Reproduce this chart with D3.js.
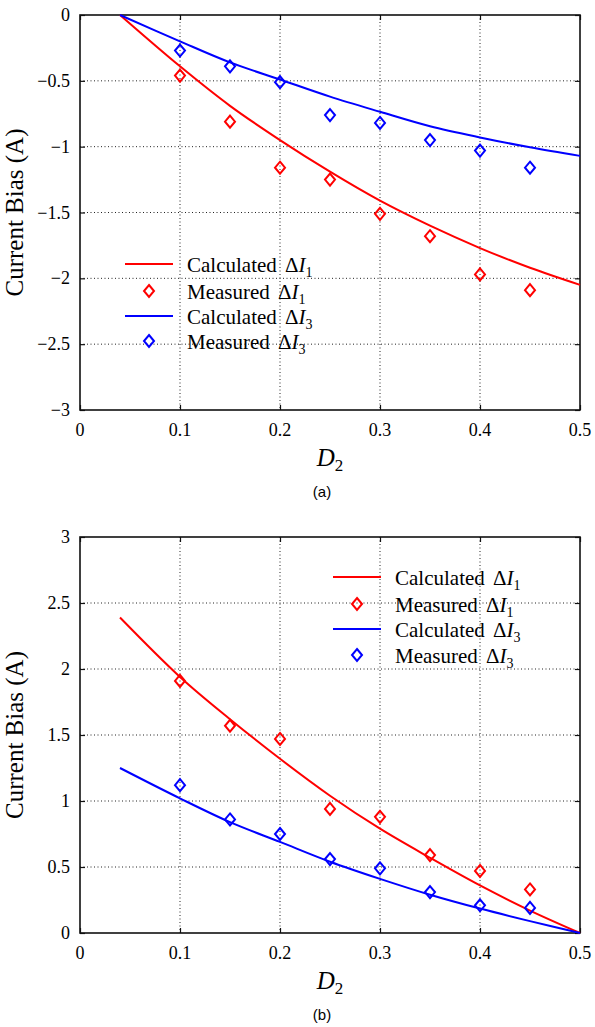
<!DOCTYPE html>
<html>
<head>
<meta charset="utf-8">
<script src="https://cdn.jsdelivr.net/npm/d3@7"></script>
<style>
  body { margin: 0; background: #fff; }
  svg { display: block; }
  text { font-family: "Liberation Serif", "DejaVu Serif", "Times New Roman", serif; fill: #000; }
  text.caption { font-family: "Liberation Sans", Arial, sans-serif; }
</style>
</head>
<body>
<div id="chart"></div>
<script>
// Data
var calcX = [0.04, 0.1, 0.15, 0.2, 0.25, 0.3, 0.35, 0.4, 0.45, 0.5];
var measX = [0.1, 0.15, 0.2, 0.25, 0.3, 0.35, 0.4, 0.45];

// panel (a)
var calcI1a = [0, -0.39, -0.69, -0.95, -1.19, -1.41, -1.60, -1.77, -1.92, -2.05];
var calcI3a = [0, -0.20, -0.36, -0.49, -0.62, -0.735, -0.845, -0.93, -1.005, -1.07];
var measI1a = [-0.46, -0.81, -1.16, -1.25, -1.51, -1.68, -1.97, -2.09];
var measI3a = [-0.27, -0.39, -0.51, -0.76, -0.82, -0.95, -1.03, -1.16];

// panel (b)
var calcI1b = [2.39, 1.94, 1.62, 1.32, 1.04, 0.79, 0.57, 0.36, 0.17, 0];
var calcI3b = [1.25, 1.02, 0.84, 0.69, 0.54, 0.41, 0.29, 0.185, 0.09, 0];
var measI1b = [1.91, 1.57, 1.47, 0.94, 0.88, 0.59, 0.47, 0.33];
var measI3b = [1.12, 0.86, 0.75, 0.56, 0.49, 0.31, 0.21, 0.19];

var xTicks = [0, 0.1, 0.2, 0.3, 0.4, 0.5];
var yTicksA = [0, -0.5, -1, -1.5, -2, -2.5, -3];
var yTicksB = [0, 0.5, 1, 1.5, 2, 2.5, 3];

var legendNames = ["Calculated ", "Measured ", "Calculated ", "Measured "];
var legendSubs = ["1", "1", "3", "3"];

var svgWidth = 595;
var svgHeight = 1027;

var svg = d3.select("#chart")
  .append("svg")
  .attr("width", svgWidth)
  .attr("height", svgHeight);

function fmt(v) {
  return String(v).replace("-", "\u2212");
}

function drawPanel(p) {
  var left = 80, right = 580;
  var x = d3.scaleLinear().domain([0, 0.5]).range([left, right]);
  var y = d3.scaleLinear().domain(p.yDomain).range([p.bottom, p.top]);

  var g = svg.append("g");

  // dotted grid
  xTicks.slice(1, -1).forEach(function(t) {
    g.append("line")
      .attr("x1", x(t)).attr("x2", x(t))
      .attr("y1", p.top).attr("y2", p.bottom)
      .attr("stroke", "#222").attr("stroke-width", 1)
      .attr("stroke-dasharray", "1,2.5");
  });
  p.yTicks.slice(1, -1).forEach(function(t) {
    g.append("line")
      .attr("x1", left).attr("x2", right)
      .attr("y1", y(t)).attr("y2", y(t))
      .attr("stroke", "#222").attr("stroke-width", 1)
      .attr("stroke-dasharray", "1,2.5");
  });

  // inward ticks on all four sides
  var axB = d3.axisBottom(x).tickValues(xTicks).tickSize(-5).tickFormat("");
  var axT = d3.axisTop(x).tickValues(xTicks).tickSize(-5).tickFormat("");
  var axL = d3.axisLeft(y).tickValues(p.yTicks).tickSize(-5).tickFormat("");
  var axR = d3.axisRight(y).tickValues(p.yTicks).tickSize(-5).tickFormat("");
  [[axB, `translate(0,${p.bottom})`], [axT, `translate(0,${p.top})`],
   [axL, `translate(${left},0)`], [axR, `translate(${right},0)`]].forEach(function(a) {
    var ag = g.append("g").attr("transform", a[1]).call(a[0]);
    ag.select(".domain").remove();
    ag.selectAll("line").attr("stroke", "#111").attr("stroke-width", 1.2);
  });

  // frame
  g.append("rect")
    .attr("x", left).attr("y", p.top)
    .attr("width", right - left).attr("height", p.bottom - p.top)
    .attr("fill", "none").attr("stroke", "#111").attr("stroke-width", 1.6);

  // tick labels
  g.selectAll(".xl").data(xTicks).enter().append("text")
    .attr("x", d => x(d)).attr("y", p.bottom + 26)
    .attr("text-anchor", "middle").attr("font-size", 18)
    .text(d => fmt(d));
  g.selectAll(".yl").data(p.yTicks).enter().append("text")
    .attr("x", left - 10).attr("y", d => y(d) + 6)
    .attr("text-anchor", "end").attr("font-size", 18)
    .text(d => fmt(d));

  // axis titles
  g.append("text")
    .attr("transform", `translate(23, ${(p.top + p.bottom) / 2}) rotate(-90)`)
    .attr("text-anchor", "middle").attr("font-size", 25)
    .text("Current Bias (A)");
  var xt = g.append("text")
    .attr("x", (left + right) / 2).attr("y", p.bottom + 56)
    .attr("text-anchor", "middle").attr("font-size", 25);
  xt.append("tspan").attr("font-style", "italic").text("D");
  xt.append("tspan").attr("font-size", 17).attr("dy", 5).text("2");

  g.append("text").attr("class", "caption")
    .attr("x", 322).attr("y", p.bottom + 87)
    .attr("text-anchor", "middle").attr("font-size", 15)
    .text(p.caption);

  // calculated curves
  var line = d3.line()
    .x(d => x(d[0]))
    .y(d => y(d[1]))
    .curve(d3.curveCatmullRom.alpha(0.5));
  g.append("path").datum(d3.zip(calcX, p.c1))
    .attr("d", line).attr("fill", "none").attr("stroke", "#ff0000").attr("stroke-width", 2);
  g.append("path").datum(d3.zip(calcX, p.c3))
    .attr("d", line).attr("fill", "none").attr("stroke", "#0000ff").attr("stroke-width", 2);

  // measured diamonds
  var diamond = "M0,-6L5,0L0,6L-5,0Z";
  [[p.m1, "#ff0000"], [p.m3, "#0000ff"]].forEach(function(s) {
    g.selectAll(null).data(d3.zip(measX, s[0])).enter().append("path")
      .attr("d", diamond)
      .attr("transform", d => `translate(${x(d[0])},${y(d[1])})`)
      .attr("fill", "none").attr("stroke", s[1]).attr("stroke-width", 2);
  });

  // legend
  var colors = ["#ff0000", "#ff0000", "#0000ff", "#0000ff"];
  p.legendRows.forEach(function(ry, i) {
    if (i % 2 === 0) {
      g.append("line")
        .attr("x1", p.legendX).attr("x2", p.legendX + 48)
        .attr("y1", ry).attr("y2", ry)
        .attr("stroke", colors[i]).attr("stroke-width", 2);
    } else {
      g.append("path").attr("d", diamond)
        .attr("transform", `translate(${p.legendX + 24},${ry})`)
        .attr("fill", "none").attr("stroke", colors[i]).attr("stroke-width", 2);
    }
    var t = g.append("text")
      .attr("x", p.legendX + 62).attr("y", ry + 8)
      .attr("font-size", 21);
    t.append("tspan").text(legendNames[i]);
    t.append("tspan").attr("dx", 3).text("\u0394");
    t.append("tspan").attr("font-style", "italic").text("I");
    t.append("tspan").attr("font-size", 14).attr("dy", 5).text(legendSubs[i]);
  });
}

drawPanel({
  top: 15, bottom: 410, yDomain: [-3, 0], yTicks: yTicksA,
  c1: calcI1a, c3: calcI3a, m1: measI1a, m3: measI3a,
  legendX: 125, legendRows: [264, 291, 316, 341], caption: "(a)"
});

drawPanel({
  top: 537, bottom: 933, yDomain: [0, 3], yTicks: yTicksB,
  c1: calcI1b, c3: calcI3b, m1: measI1b, m3: measI3b,
  legendX: 333, legendRows: [577, 604, 629, 655], caption: "(b)"
});
</script>
</body>
</html>
